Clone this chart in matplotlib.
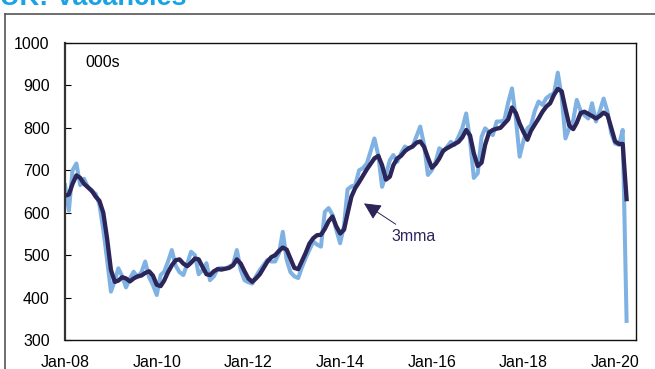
import matplotlib
matplotlib.use('Agg')
import matplotlib.pyplot as plt
import matplotlib.dates as mdates
from matplotlib.lines import Line2D
import pandas as pd

plt.rcParams['font.family'] = ['Liberation Sans', 'DejaVu Sans']

# monthly, Jan-08 .. Apr-20 (thousands)
months = pd.date_range('2008-01-01', '2020-04-01', freq='MS')

vacancies = [
    665, 605, 700, 716, 665, 680, 660, 650, 645, 620, 560, 490,   # 2008
    414, 440, 469, 450, 424, 445, 461, 448, 460, 485, 448, 430,   # 2009
    406, 453, 461, 485, 512, 475, 460, 453, 480, 508, 500, 455,   # 2010
    465, 481, 441, 450, 468, 470, 468, 473, 478, 512, 465, 441,   # 2011
    436, 433, 450, 465, 477, 489, 485, 485, 505, 555, 489, 460,   # 2012
    450, 446, 470, 493, 512, 532, 525, 520, 602, 611, 595, 560,   # 2013
    528, 570, 655, 662, 665, 700, 705, 716, 745, 775, 735, 661,   # 2014
    690, 724, 736, 720, 740, 756, 750, 756, 780, 803, 760, 689,   # 2015
    700, 720, 752, 744, 755, 767, 760, 779, 800, 834, 771, 682,   # 2016
    693, 779, 799, 790, 783, 815, 815, 818, 860, 893, 822, 732,   # 2017
    770, 799, 806, 840, 862, 854, 870, 877, 881, 930, 873, 775,   # 2018
    800, 818, 866, 840, 830, 822, 858, 815, 840, 869, 838, 787,   # 2019
    763, 760, 795, 345,                                           # 2020
]

vacancies_3mma = [
    640, 643, 668, 688, 682, 668, 660, 652, 638, 628, 600, 540,   # 2008
    465, 437, 440, 448, 445, 438, 445, 450, 452, 458, 462, 452,   # 2009
    430, 427, 440, 460, 476, 488, 490, 480, 474, 482, 492, 490,   # 2010
    472, 455, 453, 462, 467, 466, 468, 470, 476, 490, 480, 462,   # 2011
    445, 437, 445, 455, 470, 485, 495, 500, 510, 518, 513, 492,   # 2012
    470, 467, 485, 505, 527, 540, 547, 548, 562, 580, 591, 568,   # 2013
    551, 560, 598, 638, 658, 672, 687, 702, 715, 728, 734, 712,   # 2014
    678, 685, 712, 728, 734, 745, 752, 756, 765, 768, 755, 730,   # 2015
    706, 715, 728, 746, 752, 757, 762, 767, 778, 795, 782, 740,   # 2016
    710, 718, 760, 789, 795, 798, 800, 810, 820, 848, 835, 810,   # 2017
    790, 772, 793, 808, 822, 838, 850, 858, 878, 892, 886, 845,   # 2018
    805, 797, 812, 835, 838, 833, 828, 822, 828, 836, 830, 800,   # 2019
    768, 762, 762, 632,                                           # 2020
]

light_blue = '#7fb2e3'
navy = '#2b2559'

fig = plt.figure(figsize=(6.55, 3.69), dpi=100)
ax = fig.add_axes([65 / 655, 29 / 369, 571 / 655, 297 / 369])

ax.plot(months, vacancies, color=light_blue, lw=2.9, solid_joinstyle='round')
ax.plot(months, vacancies_3mma, color=navy, lw=3.1, solid_joinstyle='round')

ax.set_ylim(300, 1000)
ax.set_yticks(range(300, 1001, 100))
ax.set_xlim(pd.Timestamp('2008-01-01'), pd.Timestamp('2020-06-15'))
ax.set_xticks(pd.date_range('2008-01-01', '2020-01-01', freq='24MS'))
ax.xaxis.set_major_formatter(mdates.DateFormatter('%b-%y'))

ax.tick_params(axis='y', direction='in', length=4, width=0.8, pad=11, labelsize=11.5)
ax.tick_params(axis='x', length=0, pad=11, labelsize=11.5)
for side in ax.spines.values():
    side.set_linewidth(1.0)
    side.set_color('#111111')
ax.spines['left'].set_linewidth(1.6)
ax.spines['left'].set_color('#333333')

ax.text(0.035, 0.935, '000s', transform=ax.transAxes, fontsize=11.5, va='center', ha='left')

ax.annotate('3mma', xy=(pd.Timestamp('2014-07-10'), 622), xytext=(pd.Timestamp('2015-02-15'), 545),
            fontsize=11.5, color=navy, ha='left', va='center',
            arrowprops=dict(arrowstyle='-|>,head_length=0.9,head_width=0.45', color=navy, lw=0.7,
                            shrinkA=2, shrinkB=0))

# title (cut off at top, as in the source) and outer frame
fig.text(0.0, 1 - 5 / 369, 'UK: Vacancies', color='#1aa3e2', fontsize=19.5, fontweight='bold',
         va='baseline', ha='left')
fig.add_artist(Line2D([5 / 655, 1], [1 - 14 / 369, 1 - 14 / 369], color='#555555', lw=1.2,
                      transform=fig.transFigure))
fig.add_artist(Line2D([5 / 655, 5 / 655], [0, 1 - 14 / 369], color='#555555', lw=1.2,
                      transform=fig.transFigure))

fig.savefig('out.png', dpi=100)
